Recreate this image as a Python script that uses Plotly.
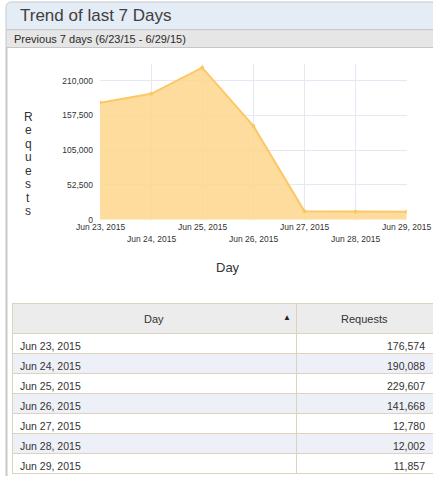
import plotly.graph_objects as go

days = ["Jun 23, 2015", "Jun 24, 2015", "Jun 25, 2015", "Jun 26, 2015",
        "Jun 27, 2015", "Jun 28, 2015", "Jun 29, 2015"]
requests = [176574, 190088, 229607, 141668, 12780, 12002, 11857]
y_ticks = [0, 52500, 105000, 157500, 210000]
col_headers = ["Day", "Requests"]
title_text = "Trend of last 7 Days"
subtitle_text = "Previous 7 days (6/23/15 - 6/29/15)"
y_title = "Requests"
x_title = "Day"

W, H = 433, 481
def px(x):
    return x / W
def py(y):
    return 1 - y / H

FONT = "Liberation Sans, Arial, sans-serif"
TXT = "#333333"

fig = go.Figure()

fig.add_trace(go.Scatter(
    x=days, y=requests, mode="lines+markers", fill="tozeroy",
    fillcolor="rgba(253,214,140,0.85)",
    line=dict(color="#fcc866", width=2),
    marker=dict(color="#fcc866", size=4),
    hoverinfo="skip", showlegend=False,
))

fig.add_trace(go.Table(
    domain=dict(x=[px(12), 1.0], y=[0, py(307)]),
    columnwidth=[284, 137],
    header=dict(
        values=["", ""],
        fill_color="#ececec",
        line=dict(color="#dcd3bc", width=1),
        height=30,
    ),
    cells=dict(
        values=[days, requests],
        format=[None, ","],
        fill_color=[["#ffffff" if i % 2 == 0 else "#eef0f7" for i in range(len(days))]] * 2,
        line=dict(color="#dcd3bc", width=1),
        align=["left", "right"],
        font=dict(family=FONT, size=10.5, color=TXT),
        height=20,
    ),
))

fig.update_layout(
    width=W, height=H, autosize=False,
    margin=dict(l=0, r=0, t=0, b=0),
    paper_bgcolor="white", plot_bgcolor="white",
    font=dict(family=FONT, color=TXT),
    xaxis=dict(
        domain=[px(100), px(406.7)], type="category", range=[0, len(days) - 1],
        showgrid=True, gridcolor="#e6e6f4", gridwidth=1,
        showticklabels=False, zeroline=False, showline=False, ticks="",
    ),
    yaxis=dict(
        domain=[py(222), py(65)], range=[0, 234700],
        tickvals=y_ticks, tickformat=",", ticks="",
        tickfont=dict(family=FONT, size=8.5, color=TXT),
        showgrid=True, gridcolor="#e6e6f4", gridwidth=1,
        zeroline=False, showline=False, ticklabelstandoff=6,
    ),
)

shapes = []
r = 6
shapes.append(dict(
    type="path", xref="paper", yref="paper",
    path=(f"M {px(6)},{py(30)} L {px(6)},{py(2+r)} "
          f"Q {px(6)},{py(2)} {px(6+r)},{py(2)} L {px(445)},{py(2)} "
          f"L {px(445)},{py(30)} Z"),
    fillcolor="#e4ecf6", line=dict(color="#c3cad3", width=1), layer="below"))
shapes.append(dict(type="rect", xref="paper", yref="paper",
                   x0=px(6), x1=px(445), y0=py(48), y1=py(30),
                   fillcolor="#e6e6e6", line=dict(color="#c6c6c6", width=1), layer="below"))
shapes.append(dict(type="line", xref="paper", yref="paper",
                   x0=px(6.5), x1=px(6.5), y0=py(48), y1=0,
                   line=dict(color="#c8c8c8", width=2)))
fig.update_layout(shapes=shapes)

ann = []
ann.append(dict(text=title_text, x=px(18), y=py(16), xref="paper", yref="paper",
                xanchor="left", yanchor="middle", showarrow=False,
                font=dict(family=FONT, size=17, color="#404040")))
ann.append(dict(text=subtitle_text, x=px(12), y=py(39), xref="paper", yref="paper",
                xanchor="left", yanchor="middle", showarrow=False,
                font=dict(family=FONT, size=11, color="#2a2a2a")))
for i, d in enumerate(days):
    ann.append(dict(text=d, x=d, xref="x", y=py(229.5 if i % 2 == 0 else 242), yref="paper",
                    xanchor="center", yanchor="middle", showarrow=False,
                    font=dict(family=FONT, size=8.5, color=TXT)))
for i, ch in enumerate(y_title):
    ann.append(dict(text=ch, x=px(28), y=py(118 + i * 13.6), xref="paper", yref="paper",
                    xanchor="center", yanchor="middle", showarrow=False,
                    font=dict(family=FONT, size=12, color=TXT)))
ann.append(dict(text=x_title, x=px(228), y=py(270), xref="paper", yref="paper",
                xanchor="center", yanchor="middle", showarrow=False,
                font=dict(family=FONT, size=13, color=TXT)))
# table header labels
for label, cx in zip(col_headers, [154, 364]):
    ann.append(dict(text=label, x=px(cx), y=py(322), xref="paper", yref="paper",
                    xanchor="center", yanchor="middle", showarrow=False,
                    font=dict(family=FONT, size=11, color=TXT)))
ann.append(dict(text="▲", x=px(287), y=py(321), xref="paper", yref="paper",
                xanchor="center", yanchor="middle", showarrow=False,
                font=dict(family=FONT, size=8, color="#222222")))
fig.update_layout(annotations=ann)

fig.write_html(
    "out.html",
    config={"displayModeBar": False},
    post_script="document.body.style.margin='0px';document.body.style.overflow='hidden';",
)
